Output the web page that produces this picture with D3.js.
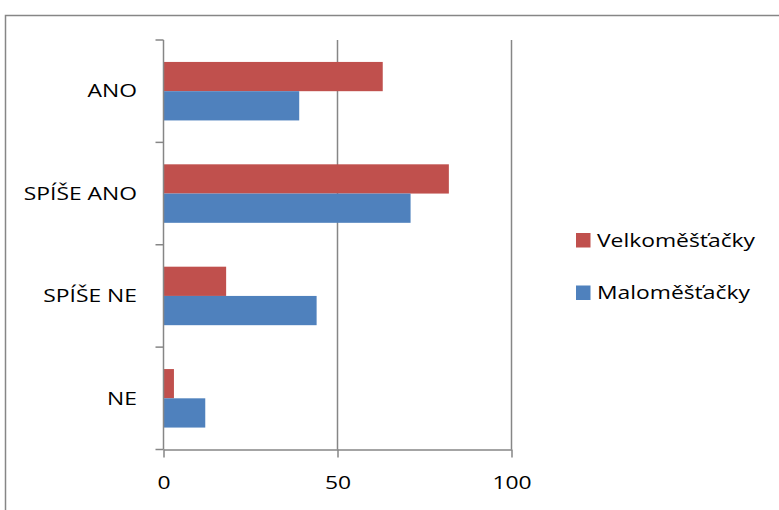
<!DOCTYPE html>
<html>
<head>
<meta charset="utf-8">
<script src="https://cdn.jsdelivr.net/npm/d3@7"></script>
<style>
  html, body { margin: 0; padding: 0; background: #fff; }
  svg { display: block; font-family: "Open Sans", sans-serif; }
</style>
</head>
<body>
<svg id="chart" width="779" height="510"></svg>
<script>
// Survey answers, top to bottom
const categories = ["ANO", "SPÍŠE ANO", "SPÍŠE NE", "NE"];
const seriesNames = ["Velkoměšťačky", "Maloměšťačky"];
const velkomestacky = [63, 82, 18, 3];
const malomestacky = [39, 71, 44, 12];
const xTicks = [0, 50, 100];

const seriesColors = ["#C0504D", "#4F81BD"];
const seriesValues = [velkomestacky, malomestacky];

const svg = d3.select("#chart");
const fontFamily = "'Open Sans', sans-serif";
const stretch = "scale(1.27,1)"; // wide lettering

// outer frame (runs past the right and bottom edges)
svg.append("rect")
  .attr("x", 5.5).attr("y", 15.5)
  .attr("width", 900).attr("height", 600)
  .attr("fill", "none").attr("stroke", "#868686").attr("stroke-width", 1.5);

const plot = { left: 163.5, right: 511.5, top: 40, bottom: 449.5 };

const x = d3.scaleLinear().domain([0, 100]).range([plot.left, plot.right]);
const y = d3.scaleBand().domain(categories).range([plot.top, plot.bottom]).paddingInner(0).paddingOuter(0);
// two bars per category, gap width 150%
const barH = y.bandwidth() / 3.5;
const inner = d3.scaleBand().domain(seriesNames).range([0, 2 * barH]);
const innerOffset = (y.bandwidth() - 2 * barH) / 2;

const gray = "#868686";

// vertical gridlines
svg.append("g").selectAll("line")
  .data(xTicks.filter(d => d > 0))
  .join("line")
  .attr("x1", d => x(d)).attr("x2", d => x(d))
  .attr("y1", plot.top).attr("y2", plot.bottom)
  .attr("stroke", gray).attr("stroke-width", 1.5);

// bars
seriesNames.forEach((name, si) => {
  svg.append("g").selectAll("rect")
    .data(categories.map((c, i) => ({ c, v: seriesValues[si][i] })))
    .join("rect")
    .attr("x", x(0))
    .attr("y", d => y(d.c) + innerOffset + inner(name))
    .attr("width", d => x(d.v) - x(0))
    .attr("height", inner.bandwidth())
    .attr("fill", seriesColors[si]);
});

// y axis with ticks on band boundaries
const yAxisG = svg.append("g");
yAxisG.append("line")
  .attr("x1", plot.left).attr("x2", plot.left)
  .attr("y1", plot.top).attr("y2", plot.bottom)
  .attr("stroke", gray).attr("stroke-width", 1.5);
const bounds = categories.map(c => y(c)).concat([plot.bottom]);
yAxisG.selectAll("line.tick")
  .data(bounds)
  .join("line").attr("class", "tick")
  .attr("x1", plot.left - 8).attr("x2", plot.left)
  .attr("y1", d => d).attr("y2", d => d)
  .attr("stroke", gray).attr("stroke-width", 1.5);
yAxisG.selectAll("text")
  .data(categories)
  .join("text")
  .attr("transform", d => `translate(137,${y(d) + y.bandwidth() / 2}) ${stretch}`)
  .attr("dy", "0.35em")
  .attr("text-anchor", "end")
  .attr("font-size", 18)
  .attr("fill", "#000")
  .text(d => d);

// x axis
const xAxis = d3.axisBottom(x).tickValues(xTicks).tickSize(8).tickPadding(19).tickSizeOuter(0);
const xAxisG = svg.append("g")
  .attr("transform", `translate(0,${plot.bottom})`)
  .call(xAxis);
xAxisG.select(".domain").attr("stroke", gray).attr("stroke-width", 1.5);
xAxisG.selectAll(".tick line").attr("stroke", gray).attr("stroke-width", 1.5);
xAxisG.selectAll(".tick text")
  .attr("font-size", 18).attr("fill", "#000")
  .attr("font-family", fontFamily)
  .attr("transform", stretch);

// legend
const legend = svg.append("g");
seriesNames.forEach((name, i) => {
  const ly = 240.5 + i * 52.5;
  legend.append("rect")
    .attr("x", 576).attr("y", ly - 7.5)
    .attr("width", 14.5).attr("height", 14.5)
    .attr("fill", seriesColors[i]);
  legend.append("text")
    .attr("transform", `translate(597,${ly}) ${stretch}`)
    .attr("dy", "0.35em")
    .attr("font-size", 18)
    .attr("fill", "#000")
    .text(name);
});
</script>
</body>
</html>
